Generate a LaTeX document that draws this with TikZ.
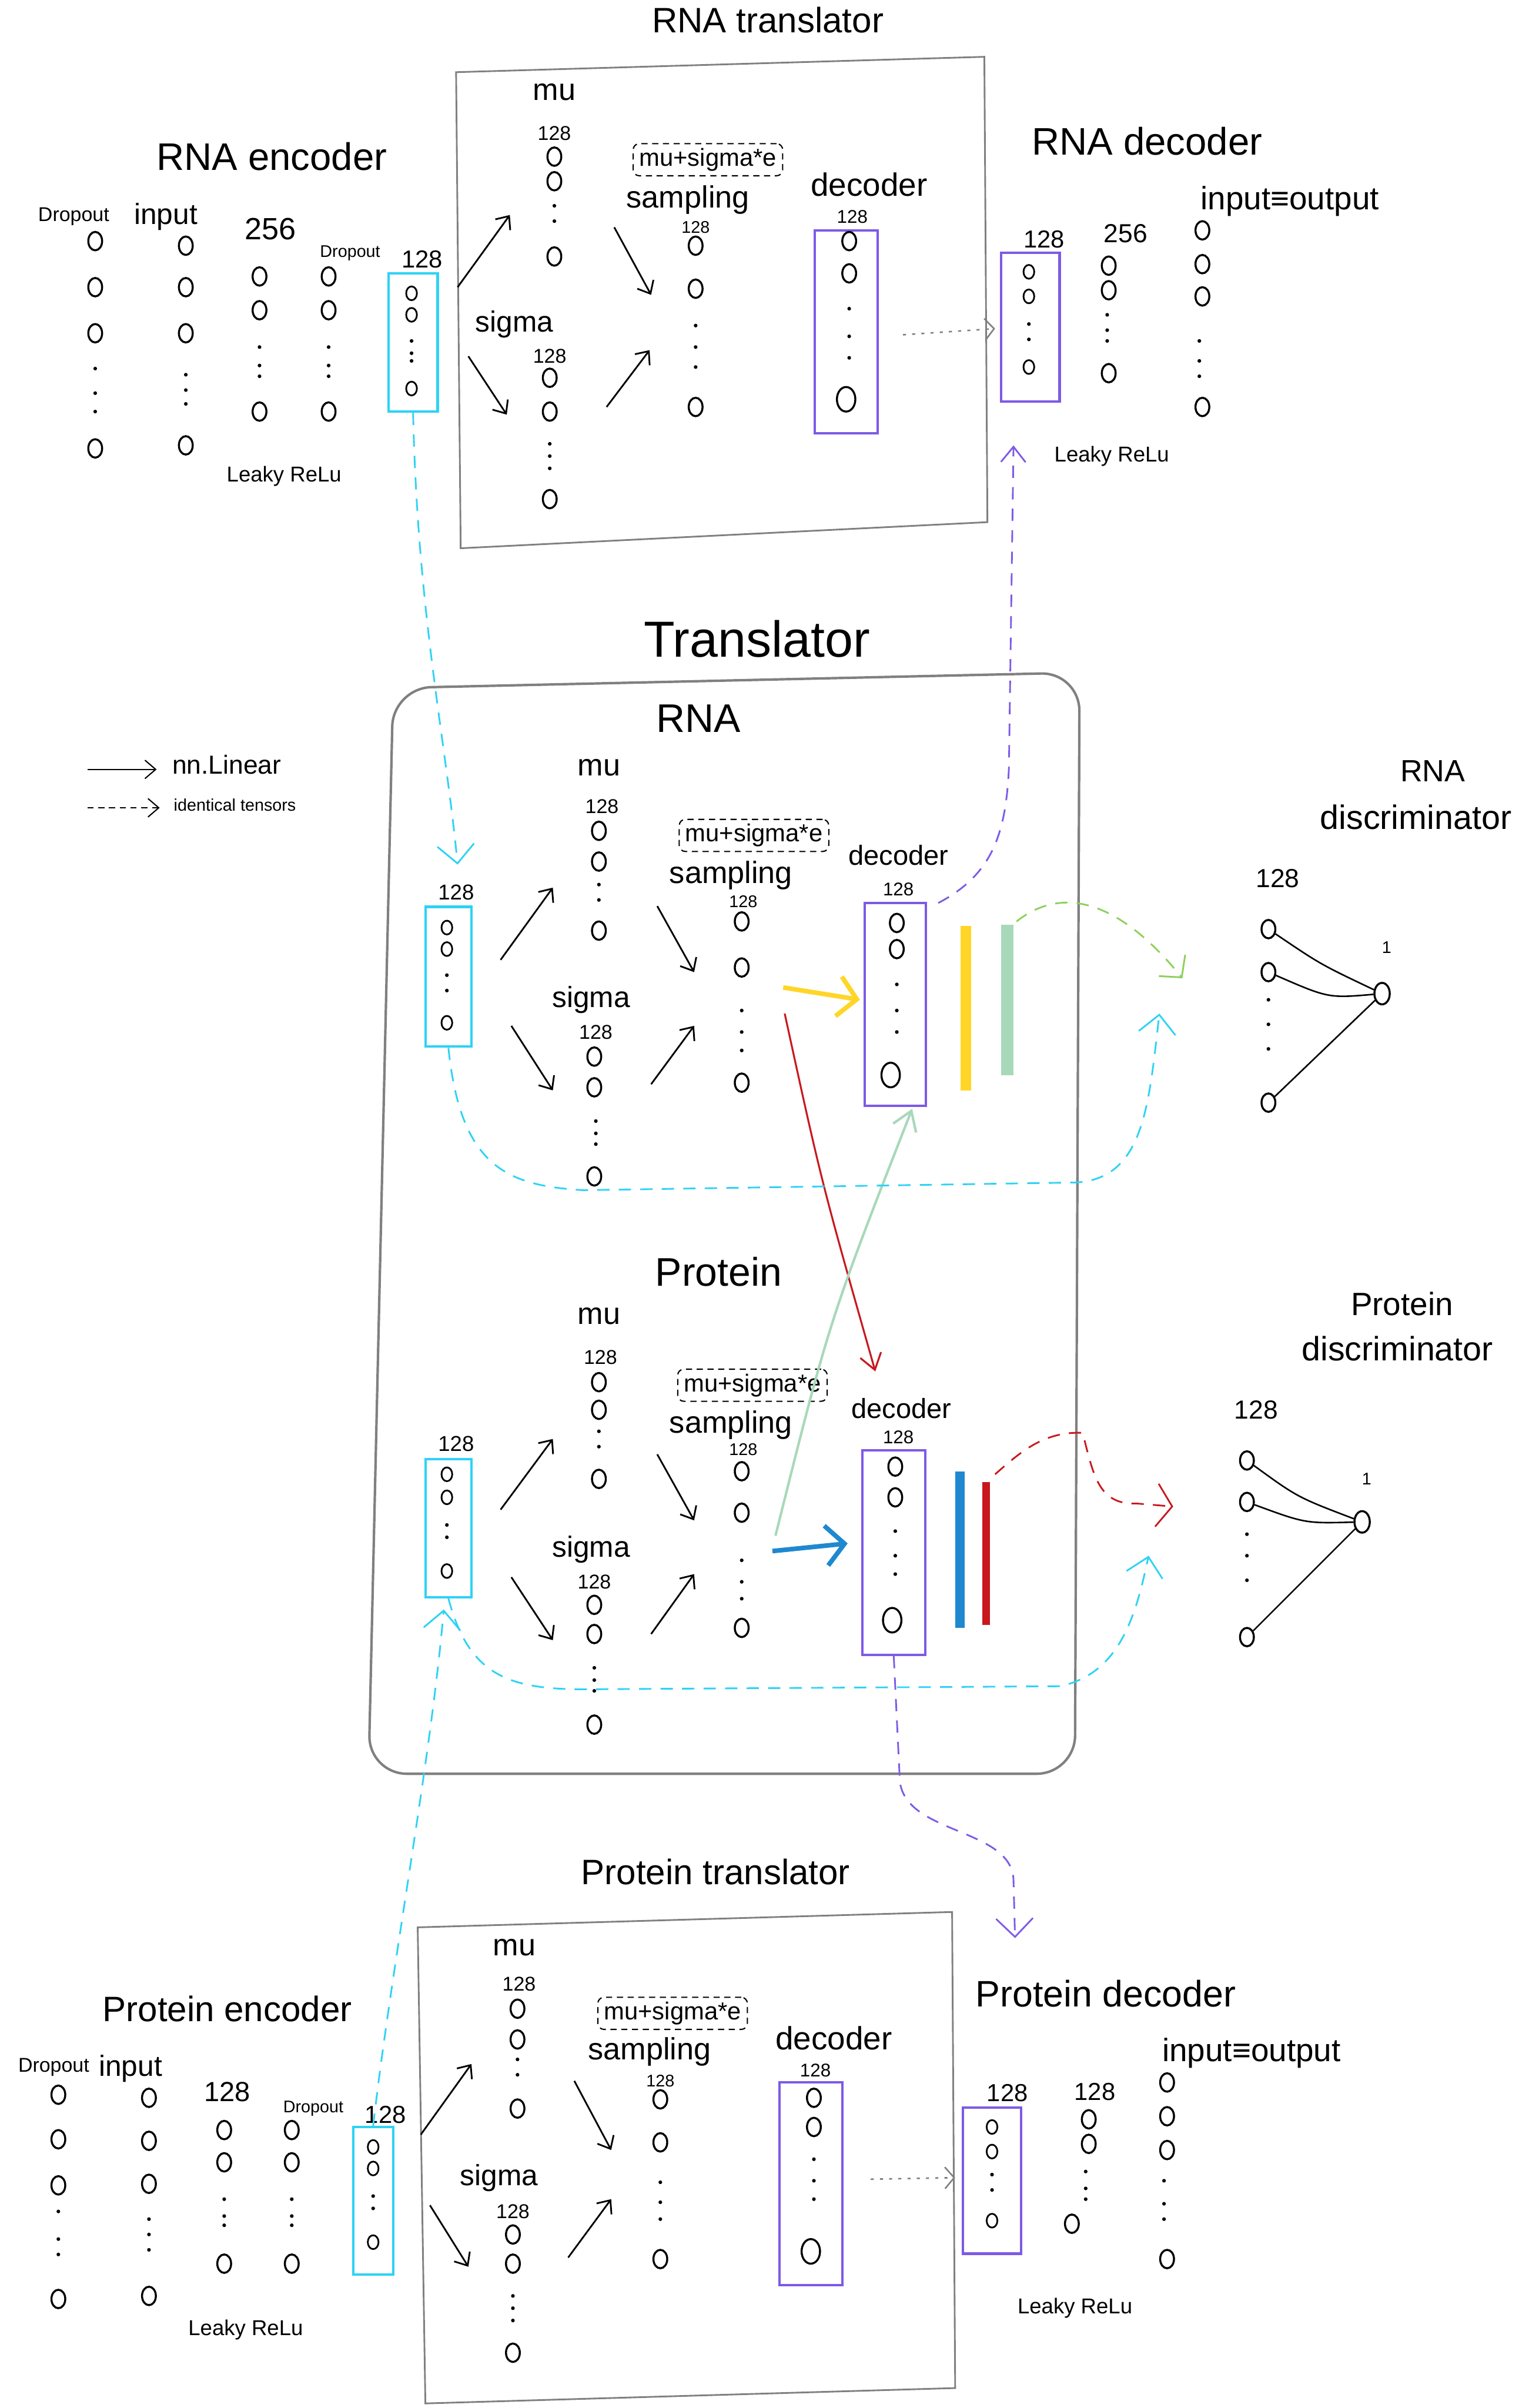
\documentclass[tikz,border=0pt]{standalone}
\usepackage{fontspec}
\setmainfont{Liberation Sans}
\usetikzlibrary{arrows.meta,shapes.geometric,calc}
\definecolor{cyn}{RGB}{46,210,245}
\definecolor{pur}{RGB}{125,90,230}
\definecolor{yel}{RGB}{255,214,40}
\definecolor{lgr}{RGB}{168,216,186}
\definecolor{dgr}{RGB}{140,208,90}
\definecolor{rdd}{RGB}{200,24,30}
\definecolor{blu}{RGB}{30,136,208}
\definecolor{gry}{RGB}{128,128,128}
\newcommand\ncol[4][nrn]{\foreach \ny [count=\ni] in {#4} {\node[#1] (#2-\ni) at (#3,\ny) {};}}
\newcommand\dotcol[2]{\foreach \dy in {#2} {\fill (#1,\dy) circle (1.2pt);}}
\begin{document}
\begin{tikzpicture}[x=1pt,y=-1pt,
  nrn/.style={draw, ellipse, inner sep=0pt, minimum width=9pt, minimum height=12pt, line width=1.3pt},
  sn/.style={nrn, minimum width=7pt, minimum height=9pt, line width=1.1pt},
  bign/.style={nrn, minimum width=12pt, minimum height=16pt, line width=1.3pt},
  tx/.style={inner sep=0pt, font=\fontsize{#1}{#1}\selectfont},
  lin/.style={-{Straight Barb[length=7pt,width=12pt]}, line width=1.1pt},
  gbox/.style={draw=gry, line width=1.1pt},
  cbox/.style={draw=cyn, line width=1.6pt, inner sep=0pt},
  pbox/.style={draw=pur, line width=1.6pt, inner sep=0pt},
  mse/.style={draw, dash pattern=on 4pt off 3pt, rounded corners=4pt, line width=.8pt, inner xsep=4pt, inner ysep=3pt, font=\fontsize{16}{16}\selectfont},
  dotarr/.style={draw=gry, line width=1pt, dash pattern=on 2pt off 4pt, -{Straight Barb[length=6pt,width=14pt]}},
  dsh/.style={dash pattern=on 8pt off 6pt, line width=1.1pt},
  bigtip/.style={-{Straight Barb[length=12pt,width=24pt]}}
]
\fill[white] (0,0) rectangle (1002,1568);
\useasboundingbox (0,0) rectangle (1002,1568);

%% ===== RNA encoder
\node[tx=25] (reT) at (177,102) {RNA encoder};
\node[tx=13] (reL1) at (48,141) {Dropout};
\node[tx=19] (reL2) at (108,141) {input};
\node[tx=20] (reL3) at (176,149) {256};
\node[tx=11] (reL4) at (228,165) {Dropout};
\node[tx=16] (reL5) at (275,169) {128};
\ncol{reA}{62}{157,187,217,292}
\dotcol{62}{240,256,268}
\ncol{reB}{121}{160,187,217,290}
\dotcol{121}{244,254,263}
\ncol{reC}{169}{180,202,268}
\dotcol{169}{226,238,245}
\ncol{reD}{214}{180,202,268}
\dotcol{214}{226,238,245}
\node[cbox, minimum width=32pt, minimum height=90pt] (reBox) at (269,223) {};
\ncol[sn]{reE}{268}{191,205,253}
\dotcol{268}{222,230,235}
\node[tx=14] (reLR) at (185,310) {Leaky ReLu};

%% ===== RNA translator
\node[tx=23] (rtT) at (500,13) {RNA translator};
\draw[gbox] (297,47) -- (641,37) -- (643,340) -- (300,357) -- cycle;
\node[tx=20] (rtMu) at (361,60) {mu};
\node[tx=13] (rtMuN) at (361,87) {128};
\ncol{rtM}{361}{102,118,167}
\dotcol{361}{134,144}
\node[tx=19] (rtSg) at (335,211) {sigma};
\node[tx=13] (rtSgN) at (358,232) {128};
\ncol{rtS}{358}{246,268,325}
\dotcol{358}{289,297,305}
\node[mse] (rtMse) at (461,104) {mu+sigma*e};
\node[tx=20] (rtSa) at (448,130) {sampling};
\node[tx=11] (rtSaN) at (453,148) {128};
\ncol{rtZ}{453}{160,188,265}
\dotcol{453}{212,226,239}
\node[tx=21] (rtDe) at (566,120) {decoder};
\node[tx=12] (rtDeN) at (555,141) {128};
\node[pbox, minimum width=41pt, minimum height=132pt] (rtDBox) at (551,216) {};
\ncol{rtD}{553}{157,178}
\dotcol{553}{201,219,233}
\node[bign] (rtD-3) at (551,260) {};
\coordinate (rtA1s) at (298,187); \coordinate (rtA1e) at (332,140);
\coordinate (rtA2s) at (305,232); \coordinate (rtA2e) at (330,270);
\coordinate (rtA3s) at (400,148); \coordinate (rtA3e) at (424,192);
\coordinate (rtA4s) at (395,265); \coordinate (rtA4e) at (423,228);
\draw[lin] (rtA1s) -- (rtA1e);
\draw[lin] (rtA2s) -- (rtA2e);
\draw[lin] (rtA3s) -- (rtA3e);
\draw[lin] (rtA4s) -- (rtA4e);

%% ===== RNA decoder
\node[tx=25] (rdT) at (747,92) {RNA decoder};
\node[tx=21] (rdIO) at (840,131) {input≡output};
\node[tx=16] (rdN1) at (680,156) {128};
\node[pbox, minimum width=38pt, minimum height=97pt] (rdBox) at (671,213) {};
\ncol[sn]{rdA}{670}{177,193,239}
\dotcol{670}{211,221}
\node[tx=17] (rdN2) at (733,152) {256};
\ncol{rdB}{722}{173,189,243}
\dotcol{721}{205,215,222}
\ncol{rdC}{783}{150,172,193,265}
\dotcol{781}{222,235,245}
\node[tx=14] (rdLR) at (724,297) {Leaky ReLu};
\coordinate (rtOut) at (588,218); \coordinate (rdIn) at (648,214);
\draw[dotarr] (rtOut) -- (rdIn);

%% ===== Legend
\coordinate (lgA) at (57,501); \coordinate (lgB) at (102,501);
\draw[lin, line width=.8pt] (lgA) -- (lgB);
\node[tx=17, anchor=west] (lgT1) at (112,498) {nn.Linear};
\coordinate (lgC) at (57,526); \coordinate (lgD) at (104,526);
\draw[lin, line width=.8pt, dash pattern=on 4pt off 3pt] (lgC) -- (lgD);
\node[tx=11, anchor=west] (lgT2) at (113,524) {identical tensors};

%% ===== Translator
\node[tx=33] (trT) at (493,416) {Translator};
\draw[gbox, line width=1.6pt, rounded corners=25pt] (256,448) -- (703,438) -- (700,1155) -- (240,1155) -- cycle;

% RNA part
\node[tx=26] (trR) at (455,468) {RNA};
\node[tx=20] (trRMu) at (390,500) {mu};
\node[tx=13] (trRMuN) at (392,525) {128};
\ncol{trRM}{390}{541,561,606}
\dotcol{390}{576,586}
\node[tx=14] (trRInN) at (297,581) {128};
\node[cbox, minimum width=30pt, minimum height=91pt] (trRBox) at (292,636) {};
\ncol[sn]{trRI}{291}{604,618,666}
\dotcol{291}{635,645}
\node[tx=19] (trRSg) at (385,651) {sigma};
\node[tx=13] (trRSgN) at (388,672) {128};
\ncol{trRS}{387}{688,708,766}
\dotcol{388}{730,738,745}
\node[mse] (trRMse) at (491,544) {mu+sigma*e};
\node[tx=20] (trRSa) at (476,570) {sampling};
\node[tx=11] (trRSaN) at (484,587) {128};
\ncol{trRZ}{483}{600,630,705}
\dotcol{483}{658,672,684}
\node[tx=18] (trRDe) at (585,557) {decoder};
\node[tx=12] (trRDeN) at (585,579) {128};
\node[pbox, minimum width=40pt, minimum height=132pt] (trRDBox) at (583,654) {};
\ncol{trRD}{584}{601,618}
\dotcol{584}{641,658,672}
\node[bign] (trRD-3) at (580,700) {};
\coordinate (trRA1s) at (326,625); \coordinate (trRA1e) at (360,578);
\coordinate (trRA2s) at (333,668); \coordinate (trRA2e) at (360,710);
\coordinate (trRA3s) at (428,590); \coordinate (trRA3e) at (452,633);
\coordinate (trRA4s) at (424,706); \coordinate (trRA4e) at (452,668);
\draw[lin] (trRA1s) -- (trRA1e);
\draw[lin] (trRA2s) -- (trRA2e);
\draw[lin] (trRA3s) -- (trRA3e);
\draw[lin] (trRA4s) -- (trRA4e);
\coordinate (yS) at (510,643); \coordinate (yE) at (560,651);
\draw[yel, line width=3pt, -{Straight Barb[length=12pt,width=26pt,line width=3pt]}] (yS) -- (yE);
\draw[yel, line width=7pt] (629,603) -- (629,710);
\draw[lgr, line width=8pt] (656,602) -- (656,700);

% Protein part
\node[tx=26] (trP) at (468,828) {Protein};
\node[tx=20] (trPMu) at (390,857) {mu};
\node[tx=13] (trPMuN) at (391,884) {128};
\ncol{trPM}{390}{900,918,963}
\dotcol{390}{932,942}
\node[tx=14] (trPInN) at (297,940) {128};
\node[cbox, minimum width=30pt, minimum height=90pt] (trPBox) at (292,995) {};
\ncol[sn]{trPI}{291}{960,975,1023}
\dotcol{291}{993,1001}
\node[tx=19] (trPSg) at (385,1009) {sigma};
\node[tx=13] (trPSgN) at (387,1030) {128};
\ncol{trPS}{387}{1045,1064,1123}
\dotcol{387}{1086,1094,1101}
\node[mse] (trPMse) at (490,902) {mu+sigma*e};
\node[tx=20] (trPSa) at (476,928) {sampling};
\node[tx=11] (trPSaN) at (484,944) {128};
\ncol{trPZ}{483}{958,985,1060}
\dotcol{483}{1016,1030,1041}
\node[tx=18] (trPDe) at (587,917) {decoder};
\node[tx=12] (trPDeN) at (585,936) {128};
\node[pbox, minimum width=41pt, minimum height=133pt] (trPDBox) at (582,1011) {};
\ncol{trPD}{583}{955,975}
\dotcol{583}{997,1013,1025}
\node[bign] (trPD-3) at (581,1055) {};
\coordinate (trPA1s) at (326,983); \coordinate (trPA1e) at (360,937);
\coordinate (trPA2s) at (333,1027); \coordinate (trPA2e) at (360,1068);
\coordinate (trPA3s) at (428,947); \coordinate (trPA3e) at (452,990);
\coordinate (trPA4s) at (424,1064); \coordinate (trPA4e) at (452,1025);
\draw[lin] (trPA1s) -- (trPA1e);
\draw[lin] (trPA2s) -- (trPA2e);
\draw[lin] (trPA3s) -- (trPA3e);
\draw[lin] (trPA4s) -- (trPA4e);
\coordinate (bS) at (503,1010); \coordinate (bE) at (552,1005);
\draw[blu, line width=3pt, -{Straight Barb[length=12pt,width=26pt,line width=3pt]}] (bS) -- (bE);
\draw[blu, line width=6pt] (625,958) -- (625,1060);
\draw[rdd, line width=5pt] (642,965) -- (642,1058);

% cross arrows
\coordinate (xrS) at (511,660); \coordinate (xrE) at (570,893);
\draw[rdd, line width=1.2pt, -{Straight Barb[length=10pt,width=14pt]}] (xrS) .. controls (535,770) .. (xrE);
\coordinate (xgS) at (505,1000); \coordinate (xgE) at (594,722);
\draw[lgr, line width=1.6pt, -{Straight Barb[length=12pt,width=16pt]}] (xgS) .. controls (540,860) .. (xgE);

%% ===== RNA discriminator
\node[tx=20] (rdsT1) at (933,502) {RNA};
\node[tx=22] (rdsT2) at (922,532) {discriminator};
\node[tx=17] (rdsN) at (832,572) {128};
\ncol{rdsI}{826}{605,633,718}
\dotcol{826}{651,667,683}
\node[nrn, minimum width=10pt, minimum height=14pt] (rdsO) at (900,647) {};
\node[tx=11] (rdsON) at (903,617) {1};
\draw[line width=1pt] (rdsI-1) .. controls (860,628) .. (rdsO);
\draw[line width=1pt] (rdsI-2) .. controls (865,650) .. (rdsO);
\draw[line width=1pt] (rdsI-3) -- (rdsO);

%% ===== Protein discriminator
\node[tx=21] (pdsT1) at (913,849) {Protein};
\node[tx=22] (pdsT2) at (910,878) {discriminator};
\node[tx=17] (pdsN) at (818,918) {128};
\ncol{pdsI}{812}{951,978,1066}
\dotcol{812}{999,1013,1029}
\node[nrn, minimum width=10pt, minimum height=14pt] (pdsO) at (887,991) {};
\node[tx=11] (pdsON) at (890,963) {1};
\draw[line width=1pt] (pdsI-1) .. controls (845,975) .. (pdsO);
\draw[line width=1pt] (pdsI-2) .. controls (850,992) .. (pdsO);
\draw[line width=1pt] (pdsI-3) -- (pdsO);

%% ===== Protein translator
\node[tx=23] (ptT) at (466,1219) {Protein translator};
\draw[gbox] (272,1255) -- (620,1245) -- (622,1555) -- (277,1565) -- cycle;
\node[tx=20] (ptMu) at (335,1268) {mu};
\node[tx=13] (ptMuN) at (338,1292) {128};
\ncol{ptM}{337}{1308,1328,1373}
\dotcol{337}{1341,1351}
\node[tx=19] (ptSg) at (325,1418) {sigma};
\node[tx=13] (ptSgN) at (334,1440) {128};
\ncol{ptS}{334}{1455,1474,1532}
\dotcol{334}{1495,1503,1511}
\node[mse] (ptMse) at (438,1311) {mu+sigma*e};
\node[tx=20] (ptSa) at (423,1336) {sampling};
\node[tx=11] (ptSaN) at (430,1355) {128};
\ncol{ptZ}{430}{1367,1395,1471}
\dotcol{430}{1421,1434,1445}
\node[tx=21] (ptDe) at (543,1327) {decoder};
\node[tx=12] (ptDeN) at (531,1348) {128};
\node[pbox, minimum width=41pt, minimum height=132pt] (ptDBox) at (528,1422) {};
\ncol{ptD}{530}{1366,1385}
\dotcol{530}{1406,1420,1432}
\node[bign] (ptD-3) at (528,1466) {};
\coordinate (ptA1s) at (274,1390); \coordinate (ptA1e) at (307,1344);
\coordinate (ptA2s) at (280,1436); \coordinate (ptA2e) at (305,1476);
\coordinate (ptA3s) at (374,1355); \coordinate (ptA3e) at (398,1400);
\coordinate (ptA4s) at (370,1470); \coordinate (ptA4e) at (398,1432);
\draw[lin] (ptA1s) -- (ptA1e);
\draw[lin] (ptA2s) -- (ptA2e);
\draw[lin] (ptA3s) -- (ptA3e);
\draw[lin] (ptA4s) -- (ptA4e);

%% ===== Protein encoder
\node[tx=23] (peT) at (148,1308) {Protein encoder};
\node[tx=13] (peL1) at (35,1346) {Dropout};
\node[tx=19] (peL2) at (85,1347) {input};
\node[tx=18] (peL3) at (148,1362) {128};
\node[tx=11] (peL4) at (204,1373) {Dropout};
\node[tx=16] (peL5) at (251,1377) {128};
\ncol{peA}{38}{1364,1393,1423,1497}
\dotcol{38}{1440,1458,1468}
\ncol{peB}{97}{1366,1394,1422,1495}
\dotcol{97}{1445,1455,1465}
\ncol{peC}{146}{1387,1408,1474}
\dotcol{146}{1432,1443,1449}
\ncol{peD}{190}{1387,1408,1474}
\dotcol{190}{1432,1443,1449}
\node[cbox, minimum width=26pt, minimum height=96pt] (peBox) at (243,1433) {};
\ncol[sn]{peE}{243}{1398,1412,1460}
\dotcol{243}{1430,1438}
\node[tx=14] (peLR) at (160,1517) {Leaky ReLu};

%% ===== Protein decoder
\node[tx=24] (pdT) at (720,1298) {Protein decoder};
\node[tx=21] (pdIO) at (815,1337) {input≡output};
\node[tx=16] (pdN1) at (656,1363) {128};
\node[pbox, minimum width=38pt, minimum height=95pt] (pdBox) at (646,1420) {};
\ncol[sn]{pdA}{646}{1385,1401,1446}
\dotcol{646}{1416,1426}
\node[tx=16] (pdN2) at (713,1362) {128};
\ncol{pdB}{709}{1380,1396}
\node[nrn] (pdB-3) at (698,1448) {};
\dotcol{707}{1414,1425,1432}
\ncol{pdC}{760}{1356,1378,1400,1471}
\dotcol{758}{1420,1435,1445}
\node[tx=14] (pdLR) at (700,1503) {Leaky ReLu};
\coordinate (ptOut) at (567,1419); \coordinate (pdIn) at (622,1418);
\draw[dotarr] (ptOut) -- (pdIn);

%% ===== coloured dashed connectors
\coordinate (c1e) at (298,563);
\draw[cyn, dsh, bigtip] (reBox.south) .. controls (272,400) and (290,480) .. (c1e);
\coordinate (p1s) at (611,588); \coordinate (p1e) at (660,290);
\draw[pur, dsh, -{Straight Barb[length=10pt,width=16pt]}] (p1s) .. controls (645,570) and (655,545) .. (657,500) -- (p1e);
\coordinate (gS) at (662,600); \coordinate (gE) at (770,637);
\draw[dgr, dsh, -{Straight Barb[length=10pt,width=22pt]}] (gS) .. controls (700,570) and (740,600) .. (gE);
\coordinate (cLe) at (755,660);
\draw[cyn, dsh, bigtip] (trRBox.south) .. controls (300,760) and (330,772) .. (380,775) -- (700,770) .. controls (745,768) and (748,720) .. (cLe);
\coordinate (rLs) at (648,960); \coordinate (rLe) at (764,981);
\draw[rdd, dsh, -{Straight Barb[length=10pt,width=28pt]}] (rLs) .. controls (665,945) and (680,932) .. (705,933) .. controls (712,960) and (715,980) .. (740,979) -- (rLe);
\coordinate (cPe) at (748,1013);
\draw[cyn, dsh, bigtip] (trPBox.south) .. controls (305,1090) and (330,1100) .. (380,1100) -- (690,1098) .. controls (730,1090) and (740,1050) .. (cPe);
\coordinate (ppE) at (661,1262);
\draw[pur, dsh, bigtip] (trPDBox.south) -- (586,1160) .. controls (590,1195) and (660,1190) .. (660,1225) -- (ppE);
\coordinate (cpE) at (289,1048);
\draw[cyn, dsh, bigtip] (peBox.north) .. controls (255,1280) and (280,1150) .. (cpE);
\end{tikzpicture}
\end{document}
